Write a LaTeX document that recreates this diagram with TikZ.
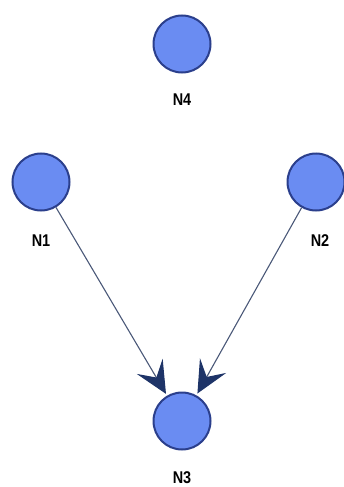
\documentclass[tikz,border=0pt]{standalone}
\usepackage{fontspec}
\setmainfont{Liberation Sans}
\usepackage{xcolor}
\usetikzlibrary{positioning,calc,arrows.meta}

\definecolor{nodefill}{HTML}{6A8CF2}
\definecolor{nodeline}{HTML}{2B3F8C}
\definecolor{edgeline}{HTML}{4A5878}
\definecolor{tipcol}{HTML}{1E3468}

\tikzset{
  netnode/.style={circle, draw=nodeline, line width=2pt, fill=nodefill, minimum size=57pt, inner sep=0pt},
  netlabel/.style={font=\fontsize{17}{17}\selectfont\bfseries, text=black, inner sep=0pt, xscale=0.85},
  netedge/.style={draw=edgeline, line width=1.1pt,
    -{Stealth[length=32pt, width=30pt, inset=13pt, color=tipcol, fill=tipcol]}, shorten >=2pt}
}

\begin{document}
\begin{tikzpicture}[x=1pt, y=-1pt]
        \useasboundingbox (0,0) rectangle (343,487);
        % Nodes
        \node[netnode] (n4) at (182,44) {};
        \node[netnode] (n1) at (41,182) {};
        \node[netnode] (n2) at (316,182) {};
        \node[netnode] (n3) at (182,421) {};

        % Labels
        \node[netlabel] (l4) at (182,100) {N4};
        \node[netlabel] (l1) at (41,241) {N1};
        \node[netlabel] (l2) at (320,241) {N2};
        \node[netlabel] (l3) at (182,478) {N3};

        % Edges
        \draw[netedge] (n1) -- (n3);
        \draw[netedge] (n2) -- (n3);
    \end{tikzpicture}
\end{document}
